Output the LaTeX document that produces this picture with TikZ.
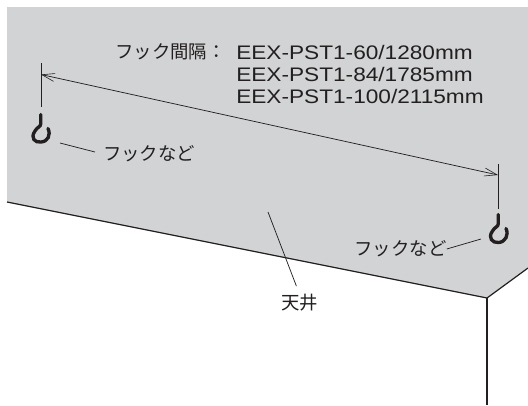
\documentclass[tikz,border=0pt]{standalone}
\usepackage{fontspec}
\setmainfont[FakeStretch=1.155]{Liberation Sans}
\newfontfamily\cjk{Noto Sans CJK JP}
\usetikzlibrary{arrows.meta}
\definecolor{ceiling}{RGB}{209,211,212}
\definecolor{ink}{RGB}{35,31,32}
\tikzset{
	label/.style={inner sep=0pt,text=ink,font=\fontsize{13.8}{15}\selectfont\cjk},
	model/.style={inner sep=0pt,anchor=base west,text=ink,font=\fontsize{14.7}{16}\selectfont},
	thin line/.style={draw=ink,line width=0.55pt},
	edge line/.style={draw=ink,line width=0.9pt},
	hook/.style={draw=ink,line width=2.5pt,line cap=round},
	barb/.tip={Straight Barb[length=9.5pt,width=6pt,line width=0.45pt]},
}
\begin{document}
\begin{tikzpicture}[x=0.75pt,y=-0.75pt]
	\useasboundingbox (0,0) rectangle (528,405);
	% ceiling
	\fill[ceiling] (7,7)--(528,7)--(528,268)--(487,298)--(7,202)--cycle;
	\coordinate (cornerL) at (7,202);
	\coordinate (corner) at (487,298);
	\coordinate (cornerR) at (528,268);
	\coordinate (wall) at (487,405);
	\draw[edge line] (cornerL)--(corner)--(cornerR);
	\draw[draw=ink,line width=0.8pt] (corner)--(wall);
	% dimension
	\coordinate (dimLtop) at (41,63);
	\coordinate (dimLbot) at (41,107);
	\coordinate (dimRtop) at (498,164);
	\coordinate (dimRbot) at (498,209);
	\coordinate (dimL) at (41,74.5);
	\coordinate (dimR) at (498,175);
	\draw[thin line] (dimLtop)--(dimLbot);
	\draw[thin line] (dimRtop)--(dimRbot);
	\draw[thin line,barb-barb] (dimL)--(dimR);
	% hooks
	\draw[hook] (40.7,114.5)--(40.7,124) .. controls (40.7,127) and (37,127) .. (35,131) .. controls (30,138) and (35,143) .. (41,142) .. controls (48,141.5) and (51,135) .. (48,128.5);
	\draw[hook] (498.2,214.5)--(498.2,224) .. controls (498.2,227) and (494.5,227) .. (492.5,231) .. controls (487.5,238) and (492.5,243) .. (498.5,242.5) .. controls (505.5,242) and (509,235) .. (506,228.5);
	% labels
	\node[label,anchor=base west] (spacing) at (115,58) {フック間隔：};
	\node[model] (m60) at (236,59) {EEX-PST1-60/1280mm};
	\node[model] (m84) at (236,81.5) {EEX-PST1-84/1785mm};
	\node[model] (m100) at (236,103.5) {EEX-PST1-100/2115mm};
	\node[label] (hookL) at (149,154) {フックなど};
	\node[label] (hookR) at (400.5,249) {フックなど};
	\node[label] (ceilingtext) at (299.5,303) {天井};
	% leaders
	\coordinate (hookLend) at (60,143);
	\coordinate (hookRend) at (481,239);
	\coordinate (ceilingend) at (268,212);
	\draw[thin line,shorten >=6pt] (hookLend)--(hookL.west);
	\draw[thin line] (hookRend)--(hookR.east);
	\draw[thin line,shorten >=6.5pt] (ceilingend)--(ceilingtext.north);
\end{tikzpicture}
\end{document}
